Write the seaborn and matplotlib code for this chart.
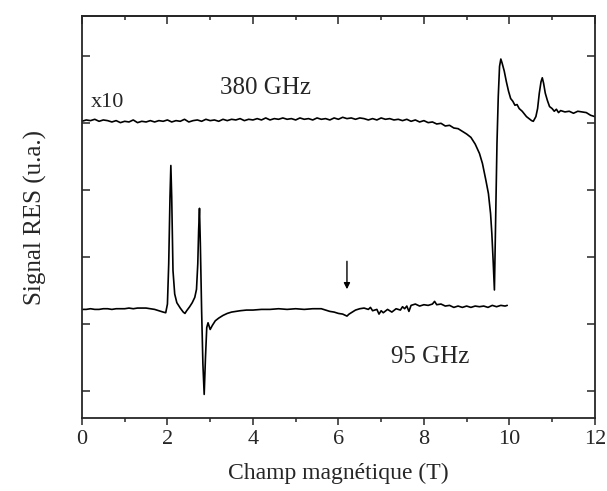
import matplotlib
matplotlib.use('Agg')
import matplotlib.pyplot as plt
from matplotlib.ticker import MultipleLocator
import pandas as pd
import seaborn as sns

# Spectre RES a 95 GHz (champ en T, signal en u.a.)
champ_95 = [0.0, 0.1, 0.2, 0.3, 0.4, 0.5, 0.6, 0.7, 0.8, 0.9, 1.0, 1.1, 1.2, 1.3, 1.4, 1.5,
            1.6, 1.7, 1.8, 1.9, 1.96, 2.0, 2.03, 2.06, 2.08, 2.10, 2.13, 2.17, 2.22, 2.30,
            2.37, 2.41, 2.45, 2.52, 2.58, 2.64, 2.68, 2.71, 2.73, 2.75, 2.77, 2.80, 2.83,
            2.86, 2.89, 2.92, 2.95, 3.0, 3.05, 3.12, 3.2, 3.3, 3.4, 3.5, 3.6, 3.7, 3.85,
            4.0, 4.2, 4.4, 4.6, 4.8, 5.0, 5.2, 5.4, 5.6, 5.7, 5.8, 5.9, 6.0, 6.1, 6.2,
            6.25, 6.3, 6.4, 6.5, 6.6, 6.7, 6.75, 6.8, 6.9, 6.95, 7.0, 7.05, 7.15, 7.25,
            7.35, 7.45, 7.5, 7.55, 7.6, 7.65, 7.7, 7.8, 7.9, 8.0, 8.1, 8.2, 8.25, 8.3,
            8.4, 8.5, 8.6, 8.7, 8.8, 8.9, 9.0, 9.1, 9.2, 9.3, 9.4, 9.5, 9.6, 9.7, 9.8,
            9.9, 9.95]
signal_95 = [1.22, 1.22, 1.23, 1.22, 1.22, 1.23, 1.23, 1.22, 1.23, 1.23, 1.23, 1.24, 1.23,
             1.24, 1.24, 1.24, 1.23, 1.22, 1.20, 1.18, 1.17, 1.30, 1.9, 2.9, 3.37, 2.9, 1.8,
             1.45, 1.32, 1.24, 1.18, 1.16, 1.20, 1.26, 1.32, 1.40, 1.52, 1.9, 2.4, 2.73,
             2.2, 1.2, 0.4, -0.05, 0.5, 0.95, 1.02, 0.92, 0.98, 1.05, 1.09, 1.13, 1.16,
             1.18, 1.19, 1.20, 1.21, 1.21, 1.22, 1.22, 1.23, 1.22, 1.23, 1.22, 1.23, 1.23,
             1.21, 1.19, 1.18, 1.16, 1.15, 1.12, 1.15, 1.17, 1.21, 1.23, 1.24, 1.22, 1.25,
             1.20, 1.22, 1.15, 1.20, 1.17, 1.22, 1.18, 1.23, 1.21, 1.26, 1.23, 1.27, 1.19,
             1.28, 1.30, 1.27, 1.29, 1.28, 1.30, 1.34, 1.29, 1.30, 1.27, 1.28, 1.25, 1.27,
             1.25, 1.27, 1.25, 1.27, 1.26, 1.27, 1.25, 1.28, 1.26, 1.28, 1.27, 1.28]

# Spectre RES a 380 GHz (x10)
champ_380 = [0.0, 0.1, 0.2, 0.3, 0.4, 0.5, 0.6, 0.7, 0.8, 0.9, 1.0, 1.1, 1.2, 1.3, 1.4,
             1.5, 1.6, 1.7, 1.8, 1.9, 2.0, 2.1, 2.2, 2.3, 2.4, 2.5, 2.6, 2.7, 2.8, 2.9,
             3.0, 3.1, 3.2, 3.3, 3.4, 3.5, 3.6, 3.7, 3.8, 3.9, 4.0, 4.1, 4.2, 4.3, 4.4,
             4.5, 4.6, 4.7, 4.8, 4.9, 5.0, 5.1, 5.2, 5.3, 5.4, 5.5, 5.6, 5.7, 5.8, 5.9,
             6.0, 6.1, 6.2, 6.3, 6.4, 6.5, 6.6, 6.7, 6.8, 6.9, 7.0, 7.1, 7.2, 7.3, 7.4,
             7.5, 7.6, 7.7, 7.8, 7.9, 8.0, 8.1, 8.2, 8.3, 8.4, 8.5, 8.6, 8.7, 8.8, 8.9,
             9.0, 9.1, 9.2, 9.3, 9.37, 9.45, 9.51, 9.56, 9.59, 9.62, 9.65, 9.68, 9.71,
             9.74, 9.77, 9.80, 9.83, 9.88, 9.93, 9.98, 10.03, 10.08, 10.13, 10.18, 10.23,
             10.3, 10.35, 10.4, 10.46, 10.52, 10.56, 10.62, 10.66, 10.70, 10.74, 10.77,
             10.80, 10.84, 10.89, 10.94, 11.0, 11.05, 11.1, 11.15, 11.2, 11.3, 11.4, 11.5,
             11.6, 11.7, 11.8, 11.9, 12.0]
signal_380 = [4.03, 4.05, 4.04, 4.06, 4.03, 4.05, 4.04, 4.02, 4.04, 4.01, 4.03, 4.02, 4.05,
              4.01, 4.03, 4.02, 4.04, 4.02, 4.04, 4.03, 4.05, 4.02, 4.04, 4.03, 4.06, 4.02,
              4.04, 4.05, 4.03, 4.06, 4.04, 4.05, 4.03, 4.06, 4.04, 4.06, 4.05, 4.07, 4.04,
              4.06, 4.05, 4.07, 4.05, 4.08, 4.05, 4.07, 4.06, 4.08, 4.06, 4.07, 4.05, 4.08,
              4.06, 4.07, 4.05, 4.08, 4.06, 4.07, 4.05, 4.08, 4.06, 4.09, 4.07, 4.08, 4.06,
              4.08, 4.07, 4.05, 4.07, 4.05, 4.08, 4.06, 4.07, 4.05, 4.06, 4.04, 4.06, 4.03,
              4.05, 4.02, 4.04, 4.01, 4.02, 3.99, 4.00, 3.96, 3.97, 3.93, 3.92, 3.88, 3.84,
              3.79, 3.69, 3.55, 3.40, 3.15, 2.95, 2.65, 2.35, 1.95, 1.51, 2.6, 3.7, 4.4,
              4.85, 4.96, 4.90, 4.78, 4.62, 4.48, 4.37, 4.33, 4.27, 4.28, 4.22, 4.18, 4.14,
              4.10, 4.07, 4.04, 4.03, 4.10, 4.22, 4.45, 4.62, 4.68, 4.60, 4.45, 4.34, 4.25,
              4.22, 4.18, 4.21, 4.16, 4.19, 4.17, 4.18, 4.15, 4.18, 4.17, 4.16, 4.12, 4.10]

x_ticks = [0, 2, 4, 6, 8, 10, 12]
y_ticks = [0, 1, 2, 3, 4, 5]

sns.set_style('ticks')
plt.rcParams['font.family'] = ['Liberation Serif', 'DejaVu Serif']

fig = plt.figure(figsize=(6.07, 4.91), dpi=100)
ax = fig.add_axes([0.135, 0.149, 0.845, 0.818])

df_95 = pd.DataFrame({'champ': champ_95, 'signal': signal_95})
df_380 = pd.DataFrame({'champ': champ_380, 'signal': signal_380})
sns.lineplot(data=df_95, x='champ', y='signal', ax=ax, color='black', lw=1.2, sort=False)
sns.lineplot(data=df_380, x='champ', y='signal', ax=ax, color='black', lw=1.2, sort=False)

ax.annotate('', xy=(6.2, 1.48), xytext=(6.2, 1.98),
            arrowprops=dict(arrowstyle='-|>', color='black', lw=1.0, mutation_scale=9))

ax.text(0.2, 4.25, 'x10', fontsize=16)
ax.text(4.3, 4.52, '380 GHz', fontsize=18, ha='center', va='center')
ax.text(8.15, 0.51, '95 GHz', fontsize=18, ha='center', va='center')

ax.set_xlim(0, 12)
ax.set_ylim(-0.40, 5.60)
ax.set_xticks(x_ticks)
ax.xaxis.set_minor_locator(MultipleLocator(1))
ax.set_yticks(y_ticks)
ax.set_yticklabels([])
ax.tick_params(axis='x', which='major', direction='out', length=5, width=1.1, labelsize=16, pad=4)
ax.tick_params(axis='x', which='minor', direction='out', length=3, width=1.1)
ax.tick_params(axis='y', direction='in', length=6, width=1.1, right=True)

top = ax.secondary_xaxis('top')
top.set_xticks(x_ticks)
top.xaxis.set_minor_locator(MultipleLocator(1))
top.tick_params(axis='x', which='major', direction='in', length=6, width=1.1, labeltop=False)
top.tick_params(axis='x', which='minor', direction='in', length=3, width=1.1)

for sp in ax.spines.values():
    sp.set_linewidth(1.3)
    sp.set_visible(True)
top.spines['top'].set_linewidth(1.3)

ax.set_xlabel('Champ magnétique (T)', fontsize=17, labelpad=10)
ax.set_ylabel('Signal RES (u.a.)', fontsize=18, labelpad=22)

fig.savefig('out.png', dpi=100)
